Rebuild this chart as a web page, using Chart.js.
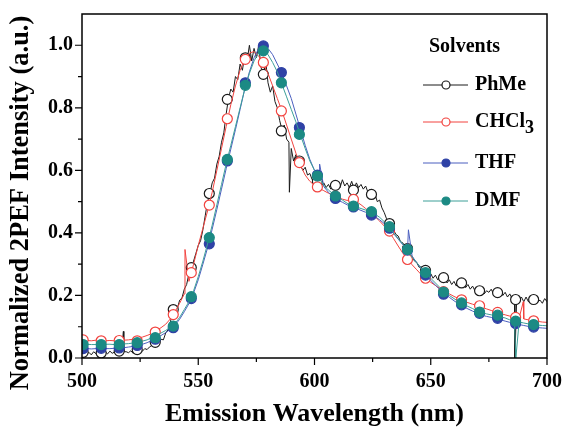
<!DOCTYPE html>
<html>
<head>
<meta charset="utf-8">
<script src="https://cdn.jsdelivr.net/npm/chart.js@4.4.1/dist/chart.umd.min.js"></script>
<style>
  html, body { margin: 0; padding: 0; background: #fff; }
</style>
</head>
<body>
<canvas id="myChart" width="563" height="430"></canvas>
<script>
// wavelength grids (nm)
const wl1 = [
  500, 501, 502, 503, 504, 505, 506, 507, 508, 509,
  510, 511, 512, 513, 514, 515, 516, 517, 518, 519,
  520, 521, 522, 523, 524, 525, 526, 527, 528, 529,
  530, 531, 532, 533, 534, 535, 536, 537, 538, 539,
  540, 541, 542, 543, 544, 545, 546, 547, 548, 549,
  550, 551, 552, 553, 554, 555, 556, 557, 558, 559,
  560, 561, 562, 563, 564, 565, 566, 567, 568, 569,
  570, 571, 572, 573, 574, 575, 576, 577, 578, 579,
  580, 581, 582, 583, 584, 585, 586, 587, 588, 589,
  590, 591, 592, 593, 594, 595, 596, 597, 598, 599,
  600, 601, 602, 603, 604, 605, 606, 607, 608, 609,
  610, 611, 612, 613, 614, 615, 616, 617, 618, 619,
  620, 621, 622, 623, 624, 625, 626, 627, 628, 629,
  630, 631, 632, 633, 634, 635, 636, 637, 638, 639,
  640, 641, 642, 643, 644, 645, 646, 647, 648, 649,
  650, 651, 652, 653, 654, 655, 656, 657, 658, 659,
  660, 661, 662, 663, 664, 665, 666, 667, 668, 669,
  670, 671, 672, 673, 674, 675, 676, 677, 678, 679,
  680, 681, 682, 683, 684, 685, 686, 687, 688, 689,
  690, 691, 692, 693, 694, 695, 696, 697, 698, 699,
  700
];
const wl2 = [
  500, 502, 504, 506, 508, 510, 512, 514, 516, 518,
  520, 522, 524, 526, 528, 530, 532, 534, 536, 538,
  540, 542, 544, 546, 548, 550, 552, 554, 556, 558,
  560, 562, 564, 566, 568, 570, 572, 574, 576, 578,
  580, 582, 584, 586, 588, 590, 592, 594, 596, 598,
  600, 602, 604, 606, 608, 610, 612, 614, 616, 618,
  620, 622, 624, 626, 628, 630, 632, 634, 636, 638,
  640, 642, 644, 646, 648, 650, 652, 654, 656, 658,
  660, 662, 664, 666, 668, 670, 672, 674, 676, 678,
  680, 682, 684, 686, 688, 690, 692, 694, 696, 698,
  700
];
const markerWl = [500.5, 508.25, 516, 523.75, 531.5, 539.25, 547, 554.75, 562.5, 570.25,
  578, 585.75, 593.5, 601.25, 609, 616.75, 624.5, 632.25, 640, 647.75,
  655.5, 663.25, 671, 678.75, 686.5, 694.25];

// PhMe (1 nm steps, noisy)
const phme = [
  0.015, 0.022, 0.012, 0.018, 0.010, 0.020, 0.014, 0.024, 0.012, 0.018,
  0.020, 0.013, 0.022, 0.015, 0.019, 0.012, 0.021, 0.016, 0.020, 0.020,
  0.017, 0.023, 0.015, 0.025, 0.020, 0.028, 0.022, 0.030, 0.027, 0.035,
  0.040, 0.036, 0.048, 0.045, 0.060, 0.058, 0.080, 0.090, 0.115, 0.145,
  0.160, 0.158, 0.185, 0.192, 0.220, 0.235, 0.270, 0.285, 0.310, 0.335,
  0.360, 0.375, 0.410, 0.455, 0.500, 0.525, 0.560, 0.575, 0.620, 0.645,
  0.690, 0.720, 0.780, 0.830, 0.860, 0.850, 0.900, 0.890, 0.940, 0.920,
  0.970, 0.950, 1.000, 0.950, 0.990, 0.960, 1.000, 0.930, 0.900, 0.950,
  0.880, 0.850, 0.870, 0.820, 0.800, 0.760, 0.730, 0.745, 0.700, 0.690,
  0.670, 0.630, 0.650, 0.620, 0.615, 0.600, 0.610, 0.585, 0.590, 0.570,
  0.575, 0.555, 0.565, 0.550, 0.560, 0.545, 0.555, 0.540, 0.560, 0.550,
  0.565, 0.545, 0.570, 0.550, 0.560, 0.545, 0.565, 0.540, 0.560, 0.545,
  0.555, 0.540, 0.550, 0.530, 0.540, 0.520, 0.525, 0.500, 0.505, 0.480,
  0.465, 0.445, 0.430, 0.420, 0.410, 0.395, 0.390, 0.372, 0.368, 0.352,
  0.345, 0.330, 0.325, 0.310, 0.305, 0.290, 0.292, 0.275, 0.282, 0.265,
  0.270, 0.255, 0.265, 0.250, 0.260, 0.245, 0.255, 0.240, 0.250, 0.235,
  0.245, 0.230, 0.245, 0.235, 0.240, 0.225, 0.235, 0.220, 0.230, 0.215,
  0.225, 0.210, 0.220, 0.205, 0.215, 0.210, 0.220, 0.205, 0.215, 0.200,
  0.215, 0.200, 0.210, 0.195, 0.205, 0.190, 0.195, 0.200, 0.185, 0.195,
  0.180, 0.195, 0.180, 0.190, 0.175, 0.190, 0.180, 0.185, 0.175, 0.190,
  0.180
];
const chcl3 = [
  0.058, 0.056, 0.055, 0.057, 0.056, 0.055, 0.056, 0.055, 0.056, 0.057,
  0.058, 0.060, 0.063, 0.067, 0.072, 0.078, 0.087, 0.097, 0.108, 0.125,
  0.148, 0.175, 0.205, 0.245, 0.300, 0.360, 0.415, 0.470, 0.530, 0.600,
  0.670, 0.740, 0.810, 0.870, 0.920, 0.955, 0.975, 0.980, 0.965, 0.940,
  0.910, 0.870, 0.830, 0.790, 0.745, 0.700, 0.655, 0.615, 0.585, 0.565,
  0.552, 0.543, 0.535, 0.527, 0.520, 0.514, 0.508, 0.504, 0.504, 0.500,
  0.490, 0.478, 0.465, 0.452, 0.438, 0.422, 0.405, 0.382, 0.358, 0.335,
  0.315, 0.298, 0.282, 0.266, 0.253, 0.242, 0.232, 0.222, 0.213, 0.205,
  0.197, 0.190, 0.183, 0.177, 0.172, 0.167, 0.162, 0.157, 0.152, 0.147,
  0.142, 0.138, 0.134, 0.130, 0.127, 0.125, 0.122, 0.119, 0.117, 0.115,
  0.114
];
const thf = [
  0.030, 0.030, 0.029, 0.030, 0.031, 0.030, 0.030, 0.031, 0.032, 0.033,
  0.035, 0.037, 0.040, 0.044, 0.049, 0.056, 0.064, 0.072, 0.081, 0.092,
  0.105, 0.124, 0.148, 0.174, 0.208, 0.250, 0.300, 0.352, 0.412, 0.475,
  0.540, 0.605, 0.668, 0.730, 0.795, 0.860, 0.915, 0.960, 0.990, 0.998,
  0.990, 0.970, 0.940, 0.910, 0.870, 0.830, 0.780, 0.730, 0.680, 0.635,
  0.600, 0.570, 0.548, 0.530, 0.515, 0.505, 0.498, 0.490, 0.483, 0.478,
  0.472, 0.466, 0.460, 0.452, 0.442, 0.430, 0.415, 0.398, 0.380, 0.362,
  0.345, 0.325, 0.305, 0.285, 0.265, 0.248, 0.233, 0.218, 0.205, 0.194,
  0.183, 0.173, 0.165, 0.157, 0.150, 0.143, 0.137, 0.133, 0.130, 0.126,
  0.122, 0.118, 0.114, 0.110, 0.107, 0.104, 0.101, 0.099, 0.097, 0.096,
  0.095
];
const dmf = [
  0.043, 0.044, 0.043, 0.043, 0.043, 0.044, 0.044, 0.043, 0.043, 0.045,
  0.046, 0.048, 0.050, 0.054, 0.058, 0.065, 0.073, 0.080, 0.088, 0.098,
  0.110, 0.130, 0.155, 0.180, 0.215, 0.260, 0.310, 0.365, 0.425, 0.490,
  0.555, 0.620, 0.680, 0.740, 0.800, 0.860, 0.910, 0.950, 0.975, 0.985,
  0.970, 0.945, 0.915, 0.875, 0.835, 0.795, 0.755, 0.712, 0.670, 0.630,
  0.600, 0.575, 0.552, 0.537, 0.525, 0.513, 0.505, 0.495, 0.488, 0.483,
  0.478, 0.473, 0.468, 0.460, 0.450, 0.436, 0.420, 0.400, 0.382, 0.364,
  0.347, 0.322, 0.305, 0.287, 0.270, 0.255, 0.240, 0.225, 0.210, 0.200,
  0.190, 0.180, 0.172, 0.165, 0.158, 0.150, 0.145, 0.141, 0.138, 0.135,
  0.132, 0.128, 0.122, 0.118, 0.115, 0.112, 0.109, 0.107, 0.105, 0.104,
  0.103
];

// sharp spikes in the raw spectra [wavelength, value]
const phmeSpikes = [[517.8, 0.085], [589.2, 0.53], [686.2, 0.0]];
const chcl3Spikes = [[544.3, 0.347], [689.8, 0.18]];
const thfSpikes = [[602.2, 0.62], [640.4, 0.41]];
const dmfSpikes = [[686.6, 0.0]];

// symbols drawn along each curve
const phmeMarks = [0.018, 0.016, 0.022, 0.027, 0.050, 0.155, 0.289, 0.526, 0.827, 0.960,
  0.907, 0.726, 0.630, 0.565, 0.552, 0.537, 0.523, 0.430, 0.350, 0.280,
  0.257, 0.240, 0.215, 0.209, 0.187, 0.187];
const chcl3Marks = [0.058, 0.055, 0.056, 0.055, 0.083, 0.139, 0.273, 0.489, 0.765, 0.955,
  0.945, 0.790, 0.625, 0.547, 0.517, 0.507, 0.460, 0.406, 0.315, 0.255,
  0.212, 0.186, 0.167, 0.146, 0.130, 0.119];
const thfMarks = [0.030, 0.031, 0.032, 0.040, 0.060, 0.097, 0.190, 0.365, 0.630, 0.880,
  0.998, 0.913, 0.737, 0.585, 0.510, 0.483, 0.457, 0.415, 0.345, 0.265,
  0.204, 0.170, 0.143, 0.127, 0.110, 0.099];
const dmfMarks = [0.043, 0.043, 0.043, 0.049, 0.065, 0.102, 0.196, 0.385, 0.635, 0.872,
  0.982, 0.880, 0.715, 0.582, 0.518, 0.486, 0.468, 0.420, 0.347, 0.273,
  0.211, 0.176, 0.147, 0.137, 0.118, 0.107];

const xTicks = [500, 550, 600, 650, 700];
const xMinor = [525, 575, 625, 675];
const yTicks = [0.0, 0.2, 0.4, 0.6, 0.8, 1.0];
const yMinor = [0.1, 0.3, 0.5, 0.7, 0.9];

const series = [
  { name: 'PhMe', xs: wl1, ys: phme, spikes: phmeSpikes, marks: phmeMarks,
    line: '#1a1a1a', edge: '#1a1a1a', fill: '#ffffff' },
  { name: 'CHCl3', xs: wl2, ys: chcl3, spikes: chcl3Spikes, marks: chcl3Marks,
    line: '#f2433f', edge: '#f2433f', fill: '#ffffff' },
  { name: 'THF', xs: wl2, ys: thf, spikes: thfSpikes, marks: thfMarks,
    line: '#4b5fbf', edge: '#2f42a6', fill: '#2f42a6' },
  { name: 'DMF', xs: wl2, ys: dmf, spikes: dmfSpikes, marks: dmfMarks,
    line: '#3c9f98', edge: '#1c8a84', fill: '#1c8a84' }
];

const FONT = "'Liberation Serif', 'Times New Roman', serif";

function toPoints(xs, ys, spikes) {
  const pts = xs.map((x, i) => ({ x: x, y: ys[i] }));
  spikes.forEach(s => pts.push({ x: s[0], y: s[1] }));
  pts.sort((a, b) => a.x - b.x);
  return pts;
}

const datasets = [];
series.forEach((s, i) => {
  const base = (series.length - 1 - i) * 2;
  datasets.push({
    label: s.name,
    data: toPoints(s.xs, s.ys, s.spikes),
    showLine: true,
    borderColor: s.line,
    borderWidth: 1,
    pointRadius: 0,
    tension: 0,
    order: base + 1
  });
  datasets.push({
    label: s.name + ' symbols',
    data: markerWl.map((x, k) => ({ x: x, y: s.marks[k] })),
    showLine: false,
    pointRadius: 5,
    pointBorderWidth: 1.2,
    pointBorderColor: s.edge,
    pointBackgroundColor: s.fill,
    order: base
  });
});

// frame, tick marks, axis titles and legend
const decorations = {
  id: 'decorations',
  afterDraw(chart) {
    const ctx = chart.ctx;
    const a = chart.chartArea;
    const xs = chart.scales.x, ys = chart.scales.y;
    ctx.save();
    ctx.strokeStyle = '#000';
    ctx.lineWidth = 1.5;
    ctx.strokeRect(a.left, a.top, a.right - a.left, a.bottom - a.top);

    ctx.lineWidth = 1.2;
    ctx.beginPath();
    xTicks.forEach(v => { const p = xs.getPixelForValue(v); ctx.moveTo(p, a.bottom); ctx.lineTo(p, a.bottom + 7); });
    xMinor.forEach(v => { const p = xs.getPixelForValue(v); ctx.moveTo(p, a.bottom); ctx.lineTo(p, a.bottom + 4); });
    yTicks.forEach(v => { const p = ys.getPixelForValue(v); ctx.moveTo(a.left, p); ctx.lineTo(a.left - 7, p); });
    yMinor.forEach(v => { const p = ys.getPixelForValue(v); ctx.moveTo(a.left, p); ctx.lineTo(a.left - 4, p); });
    ctx.stroke();

    ctx.fillStyle = '#000';
    ctx.textAlign = 'center';
    ctx.textBaseline = 'middle';
    ctx.font = 'bold 26px ' + FONT;
    ctx.fillText('Emission Wavelength (nm)', (a.left + a.right) / 2, 414);

    ctx.save();
    ctx.translate(21, 203);
    ctx.rotate(-Math.PI / 2);
    ctx.font = 'bold 26.5px ' + FONT;
    ctx.fillText('Normalized 2PEF Intensity (a.u.)', 0, 0);
    ctx.restore();

    // legend
    ctx.textAlign = 'left';
    ctx.font = 'bold 20px ' + FONT;
    ctx.fillText('Solvents', 429, 47);
    const rows = [85, 122, 163, 201];
    series.forEach((s, i) => {
      const y = rows[i];
      ctx.strokeStyle = s.line;
      ctx.lineWidth = 1;
      ctx.beginPath();
      ctx.moveTo(423, y);
      ctx.lineTo(468, y);
      ctx.stroke();
      ctx.beginPath();
      ctx.arc(446, y, 4, 0, Math.PI * 2);
      ctx.fillStyle = s.fill;
      ctx.fill();
      ctx.strokeStyle = s.edge;
      ctx.lineWidth = 1.2;
      ctx.stroke();
      ctx.fillStyle = '#000';
      ctx.font = 'bold 20px ' + FONT;
      if (s.name === 'CHCl3') {
        ctx.fillText('CHCl', 475, y);
        const w = ctx.measureText('CHCl').width;
        ctx.font = 'bold 18px ' + FONT;
        ctx.fillText('3', 475 + w, y + 6);
      } else {
        ctx.fillText(s.name, 475, y);
      }
    });
    ctx.restore();
  }
};

const config = {
  type: 'scatter',
  data: { datasets: datasets },
  options: {
    responsive: false,
    animation: false,
    devicePixelRatio: 1,
    layout: { padding: { top: 14, right: 16, left: 0, bottom: 0 } },
    plugins: {
      legend: { display: false },
      tooltip: { enabled: false }
    },
    scales: {
      x: {
        type: 'linear',
        min: 500,
        max: 700,
        grid: { display: false, drawTicks: false },
        border: { display: false },
        afterBuildTicks: scale => { scale.ticks = xTicks.map(v => ({ value: v })); },
        afterFit: scale => {
          scale.height = 72;
          scale.paddingLeft = 0;
          scale.paddingRight = 0;
        },
        ticks: {
          color: '#000',
          padding: 12,
          maxRotation: 0,
          font: { family: FONT, size: 20, weight: 'bold' }
        }
      },
      y: {
        min: 0,
        max: 1.1,
        grid: { display: false, drawTicks: false },
        border: { display: false },
        afterBuildTicks: scale => { scale.ticks = yTicks.map(v => ({ value: v })); },
        afterFit: scale => {
          scale.width = 82;
          scale.paddingTop = 0;
          scale.paddingBottom = 0;
        },
        ticks: {
          color: '#000',
          padding: 9,
          callback: v => v.toFixed(1),
          font: { family: FONT, size: 20, weight: 'bold' }
        }
      }
    }
  },
  plugins: [decorations]
};

const myChart = new Chart(document.getElementById('myChart').getContext('2d'), config);
</script>
</body>
</html>
